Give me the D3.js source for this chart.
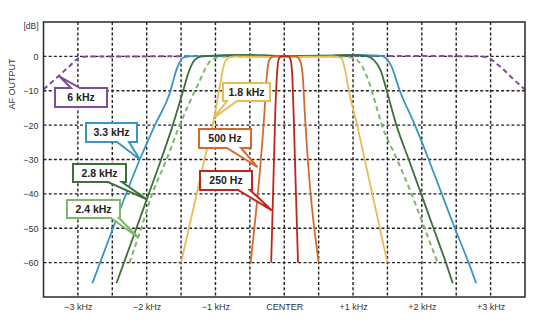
<!DOCTYPE html>
<html>
<head>
<meta charset="utf-8">
<script src="https://cdn.jsdelivr.net/npm/d3@7"></script>
<style>
  html, body { margin: 0; padding: 0; background: #fff; }
  svg { display: block; }
  text { font-family: "Liberation Sans", Arial, sans-serif; }
</style>
</head>
<body>
<svg id="chart" width="533" height="327"></svg>
<script>
// Frequency offsets from the carrier (kHz) and tick labels
const xTicks = [-3, -2, -1, 0, 1, 2, 3];
const xTickLabels = ["\u22123 kHz", "\u22122 kHz", "\u22121 kHz", "CENTER", "+1 kHz", "+2 kHz", "+3 kHz"];
const yTicks = [0, -10, -20, -30, -40, -50, -60];
const yTickLabels = ["0", "\u221210", "\u221220", "\u221230", "\u221240", "\u221250", "\u221260"];

// Filter passband responses: [offset kHz, dB]
const filter6k = [[-3.5,-9.6],[-3.3,-6.1],[-3.12,-2.8],[-2.98,-0.4],[-2.85,0],[-2,0],[-1,0.1],[0,0],[1,0.1],[2,0.1],[2.85,0],[2.96,-0.4],[3.14,-3.0],[3.33,-6.6],[3.5,-9.7]];
const filter33k = [[-2.79,-66],[-2.49,-50],[-2.10,-30],[-1.88,-20],[-1.67,-11],[-1.55,-3],[-1.47,-0.4],[-1.38,0],[-1.0,0.1],[-0.6,0.4],[0,0.1],[0.6,0.2],[1.0,0.4],[1.38,0.2],[1.47,-0.4],[1.56,-3],[1.68,-10],[1.90,-20],[2.10,-30],[2.29,-40],[2.48,-50],[2.68,-60],[2.79,-66]];
const filter28k = [[-2.44,-66],[-2.33,-60],[-2.15,-50],[-1.97,-40],[-1.79,-30],[-1.62,-20],[-1.47,-10],[-1.38,-4],[-1.30,-1],[-1.2,0],[-0.6,0.4],[0,0.1],[0.6,0.2],[1.0,0.4],[1.2,0.1],[1.30,-1],[1.40,-4],[1.49,-10],[1.63,-20],[1.81,-30],[1.99,-40],[2.17,-50],[2.35,-60],[2.45,-66]];
const filter24k = [[-2.25,-60],[-2.08,-50],[-1.92,-40],[-1.71,-30],[-1.52,-20],[-1.39,-14],[-1.25,-8],[-1.10,-2],[-0.98,-0.3],[-0.85,0],[0,0],[0.85,0],[0.99,-0.4],[1.12,-2.5],[1.25,-8.5],[1.33,-14],[1.42,-20],[1.64,-30],[1.85,-40],[2.04,-50],[2.23,-60]];
const filter18k = [[-1.50,-60],[-1.16,-30],[-1.03,-19],[-0.93,-8],[-0.87,-2],[-0.80,-0.3],[-0.7,0],[0,-0.2],[0.72,0],[0.83,-0.5],[0.89,-4.5],[0.94,-10],[1.06,-20],[1.17,-30],[1.28,-40],[1.39,-50],[1.50,-60]];
const filter500 = [[-0.49,-60],[-0.29,-17],[-0.255,-6],[-0.22,-1.2],[-0.16,0],[0,0.1],[0.17,0],[0.23,-1.2],[0.27,-6],[0.30,-17],[0.50,-60]];
const filter250 = [[-0.19,-60],[-0.13,-16],[-0.105,-5],[-0.08,-0.8],[-0.04,0],[0.06,0],[0.09,-0.8],[0.115,-5],[0.135,-16],[0.20,-60]];

// Callout names and the point on each curve they mark: [offset kHz, dB]
const labelNames = ["6 kHz", "3.3 kHz", "2.8 kHz", "2.4 kHz", "1.8 kHz", "500 Hz", "250 Hz"];
const labelTips = [[-3.27,-5.8],[-2.10,-30],[-2.0,-41.6],[-2.125,-52.7],[-1.03,-18],[-0.39,-32.2],[-0.18,-44.8]];

const series = [
  { data: filter6k,  color: "#7e4c98", dash: "5,3.5", width: 2 },
  { data: filter33k, color: "#3b95c2", dash: null,   width: 1.8 },
  { data: filter24k, color: "#7fb56c", dash: "5,3.5", width: 2 },
  { data: filter28k, color: "#3d6f3b", dash: null,   width: 1.8 },
  { data: filter18k, color: "#e5bc58", dash: null,   width: 1.8 },
  { data: filter500, color: "#d4692c", dash: null,   width: 1.8 },
  { data: filter250, color: "#c0251d", dash: null,   width: 1.8 }
];
const labelColors = ["#7e4c98", "#3b95c2", "#3d6f3b", "#7fb56c", "#e5bc58", "#d4692c", "#c0251d"];

// Callout box layout (pixels): box rect, pointer base on top/bottom edge
const labelBoxes = [
  { x: 55,  y: 88,  w: 52, h: 19, edge: "top",    b0: 71,  b1: 80 },
  { x: 86,  y: 123, w: 51, h: 19, edge: "bottom", b0: 117, b1: 129 },
  { x: 73,  y: 164, w: 53, h: 18, edge: "bottom", b0: 108, b1: 122 },
  { x: 67,  y: 200, w: 53, h: 18, edge: "bottom", b0: 111, b1: 119 },
  { x: 223, y: 83,  w: 47, h: 18, edge: "bottom", b0: 227, b1: 237 },
  { x: 199, y: 129, w: 52, h: 19, edge: "bottom", b0: 227, b1: 241 },
  { x: 200, y: 171, w: 52, h: 19, edge: "bottom", b0: 238, b1: 250 }
];

const svg = d3.select("#chart");
const plotL = 43.5, plotR = 525, plotT = 22, plotB = 297;

const x = d3.scaleLinear().domain([-3.5, 3.5]).range([plotL, plotR]);
const y = d3.scaleLinear().domain([-70, 10]).range([plotB, plotT]);

svg.append("defs").append("clipPath").attr("id", "plot")
  .append("rect").attr("x", plotL).attr("y", plotT).attr("width", plotR - plotL).attr("height", plotB - plotT);

// Dashed grid
const grid = svg.append("g").attr("stroke", "#222").attr("stroke-width", 1.4).attr("stroke-dasharray", "3,2.2");
grid.selectAll("line.v").data(d3.range(-3, 3.01, 0.5)).join("line").attr("class", "v")
  .attr("x1", d => x(d)).attr("x2", d => x(d)).attr("y1", plotT).attr("y2", plotB);
grid.selectAll("line.h").data(yTicks).join("line").attr("class", "h")
  .attr("x1", plotL).attr("x2", plotR).attr("y1", d => y(d)).attr("y2", d => y(d));

// Response curves
const line = d3.line().x(d => x(d[0])).y(d => y(d[1])).curve(d3.curveMonotoneX);
const curves = svg.append("g").attr("clip-path", "url(#plot)").attr("fill", "none")
  .attr("stroke-linejoin", "round");
series.forEach(s => {
  curves.append("path").attr("d", line(s.data))
    .attr("stroke", s.color).attr("stroke-width", s.width)
    .attr("stroke-dasharray", s.dash);
});

// Frame
svg.append("rect").attr("x", plotL).attr("y", plotT).attr("width", plotR - plotL).attr("height", plotB - plotT)
  .attr("fill", "none").attr("stroke", "#2a2a2a").attr("stroke-width", 1.5);

// X axis labels
const xAxis = d3.axisBottom(x).tickValues(xTicks).tickSize(0).tickPadding(0)
  .tickFormat((d, i) => xTickLabels[i]);
const gx = svg.append("g").attr("transform", `translate(0,${plotB + 13})`).call(xAxis);
gx.select(".domain").remove();
gx.selectAll("text").attr("font-size", 9).attr("fill", "#333").attr("dy", 0)
  .style("font-family", "'Liberation Sans', Arial, sans-serif");

// Y axis labels
const yAxis = d3.axisLeft(y).tickValues(yTicks).tickSize(0).tickPadding(0)
  .tickFormat((d, i) => yTickLabels[i]);
const gy = svg.append("g").attr("transform", `translate(${plotL - 5},0)`).call(yAxis);
gy.select(".domain").remove();
gy.selectAll("text").attr("font-size", 9).attr("fill", "#333")
  .style("font-family", "'Liberation Sans', Arial, sans-serif");

svg.append("text").attr("x", plotL - 5).attr("y", 29).attr("text-anchor", "end")
  .attr("font-size", 8.5).attr("fill", "#333").text("[dB]");
svg.append("text").attr("transform", "translate(15,84) rotate(-90)").attr("text-anchor", "middle")
  .attr("font-size", 9).attr("fill", "#333").text("AF OUTPUT");

// Callouts: box with a narrow pointer to its curve
const callouts = svg.append("g");
labelNames.forEach((name, i) => {
  const b = labelBoxes[i];
  const tx = x(labelTips[i][0]), ty = y(labelTips[i][1]);
  let p;
  if (b.edge === "bottom") {
    p = `M${b.x},${b.y} H${b.x + b.w} V${b.y + b.h} H${b.b1} L${tx},${ty} L${b.b0},${b.y + b.h} H${b.x} Z`;
  } else {
    p = `M${b.x},${b.y} H${b.b0} L${tx},${ty} L${b.b1},${b.y} H${b.x + b.w} V${b.y + b.h} H${b.x} Z`;
  }
  callouts.append("path").attr("d", p).attr("fill", "#fff")
    .attr("stroke", labelColors[i]).attr("stroke-width", 2).attr("stroke-linejoin", "miter");
  callouts.append("text").attr("x", b.x + b.w / 2).attr("y", b.y + b.h / 2 + 3.8)
    .attr("text-anchor", "middle").attr("font-size", 10.5).attr("font-weight", "bold")
    .attr("fill", "#222").text(name);
});
</script>
</body>
</html>
